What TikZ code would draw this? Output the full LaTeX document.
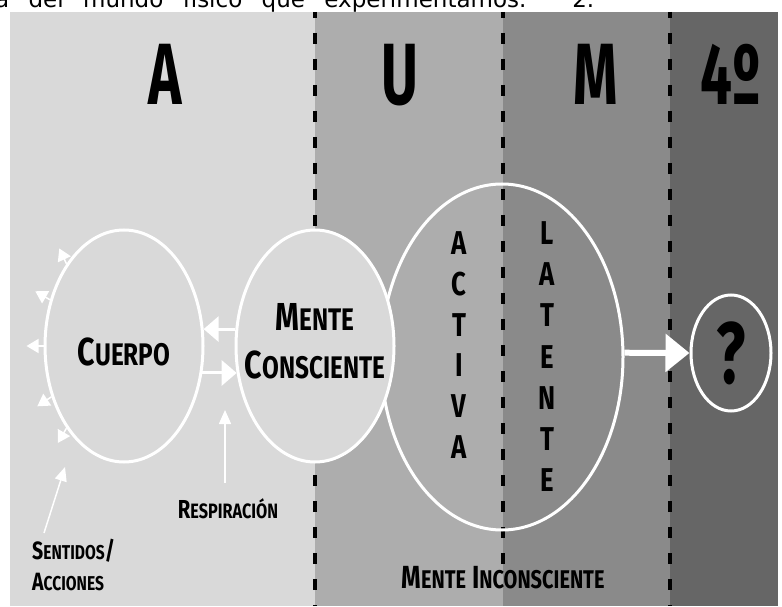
\documentclass[tikz,border=0pt]{standalone}
\usepackage{fontspec}
\setmainfont{Fira Sans}
\newfontfamily\textofont{DejaVu Sans}
\usetikzlibrary{arrows.meta,shapes.geometric}

\definecolor{zonaA}{HTML}{D9D9D9}
\definecolor{zonaU}{HTML}{ADADAD}
\definecolor{zonaM}{HTML}{8A8A8A}
\definecolor{zonaC}{HTML}{666666}

% condensed text and fake small caps
\newcommand{\cond}[1]{\scalebox{0.78}[1]{#1}}
\newcommand{\smc}[1]{\scalebox{0.8}{#1}}

\begin{document}
\begin{tikzpicture}[x=1pt, y=1pt]
    % Define styles
    \tikzset{
        divisor/.style={black, line width=3.5pt, dash pattern=on 11pt off 15pt, dash phase=5pt},
        letragrande/.style={inner sep=0pt, anchor=base, font=\bfseries\fontsize{87}{87}\selectfont},
        elipse/.style={ellipse, draw=white, line width=3pt, inner sep=0pt},
        etiqueta/.style={inner sep=0pt, align=center, font=\bfseries\fontsize{39}{48}\selectfont},
        etiquetachica/.style={inner sep=0pt, align=left, font=\bfseries\fontsize{25}{31}\selectfont},
        letra/.style={inner sep=0pt, font=\bfseries\fontsize{33}{33}\selectfont},
        flecha/.style={white, line width=3pt, -{Triangle[length=15pt, width=25pt]}},
        flechafina/.style={white, line width=1.5pt, -{Triangle[length=14pt, width=12pt]}},
        flechita/.style={white, line width=1.5pt, -{Triangle[length=12pt, width=14pt]}},
        flechagorda/.style={white, line width=6pt, -{Triangle[length=24pt, width=37pt]}}
    }

    \useasboundingbox (0,0) rectangle (782,606);

    % Cut line of text above
    \begin{scope}
        \clip (0,594) rectangle (782,606);
        \node[anchor=base west, inner sep=0pt, font=\textofont\fontsize{23}{23}\selectfont] (textosup) at (-5,598)
            {\makebox[599pt][s]{a del mundo físico que experimentamos. 2.}};
    \end{scope}

    % Zones
    \fill[zonaA] (10,0) rectangle (315,594);
    \fill[zonaU] (315,0) rectangle (503,594);
    \fill[zonaM] (503,0) rectangle (670,594);
    \fill[zonaC] (670,0) rectangle (778,594);
    \foreach \x/\yfin in {315/0,503/42,670/0}
        \draw[divisor] (\x,594) -- (\x,\yfin);

    % Zone letters
    \node[letragrande] (zonaa) at (165,501) {\scalebox{0.65}[1]{A}};
    \node[letragrande] (zonau) at (400,501) {\scalebox{0.65}[1]{U}};
    \node[letragrande] (zonam) at (596,501) {\scalebox{0.65}[1]{M}};
    \node[letragrande] (zonac) at (731,501) {\scalebox{0.65}[1]{4º}};

    % Ellipses
    \node[elipse, minimum width=158pt, minimum height=232pt] (cuerpo) at (124,260) {};
    \node[elipse, minimum width=242pt, minimum height=346pt] (incons) at (502,249) {};
    \node[elipse, fill=zonaA, minimum width=158pt, minimum height=232pt] (mente) at (315,260) {};
    \node[elipse, minimum width=80pt, minimum height=116pt, font=\bfseries\fontsize{87}{87}\selectfont] (pregunta) at (731,253) {\scalebox{0.7}[1]{?}};

    % Labels
    \node[etiqueta] (cuerpotxt) at ([yshift=-6pt]cuerpo.center) {\cond{C\smc{UERPO}}};
    \node[etiqueta] (mentetxt) at ([yshift=5pt]mente.center) {\cond{M\smc{ENTE}}\\\cond{C\smc{ONSCIENTE}}};
    \foreach \l [count=\i] in {A,C,T,I,V,A}
        \node[letra] (activa\i) at (459, {363-40.8*(\i-1)}) {\cond{\l}};
    \foreach \l [count=\i] in {L,A,T,E,N,T,E}
        \node[letra] (latente\i) at (547, {373-41.2*(\i-1)}) {\cond{\l}};
    \node[etiquetachica, anchor=base, font=\bfseries\fontsize{26}{26}\selectfont] (resp) at (228,88) {\cond{R\smc{ESPIRACIÓN}}};
    \node[etiquetachica, anchor=north west] (sentidos) at (32,67) {\cond{S\smc{ENTIDOS}/}\\\cond{A\smc{CCIONES}}};
    \node[etiqueta, font=\bfseries\fontsize{32}{32}\selectfont] (inconstxt) at (503,28) {\cond{M\smc{ENTE} I\smc{NCONSCIENTE}}};

    % Arrows
    \draw[flecha] (mente.168) -- (cuerpo.12);
    \draw[flecha] (cuerpo.-19) -- (mente.199);
    \draw[flechagorda] (incons.2) -- (pregunta.west);

    \coordinate (respfin) at (225,196);
    \draw[flechafina, shorten <=15pt] (resp.north -| respfin) -- (respfin);

    \coordinate (sentfin) at (65,139);
    \draw[flechafina] ([xshift=12pt, yshift=6pt]sentidos.north west) -- (sentfin);

    \foreach \a/\d in {125/115,148/150,180/180,215/214,235/240}{
        \path (cuerpo.\a) ++(\d:17) coordinate (sentido\a);
        \draw[flechita] (cuerpo.\a) -- (sentido\a);
    }

\end{tikzpicture}
\end{document}
